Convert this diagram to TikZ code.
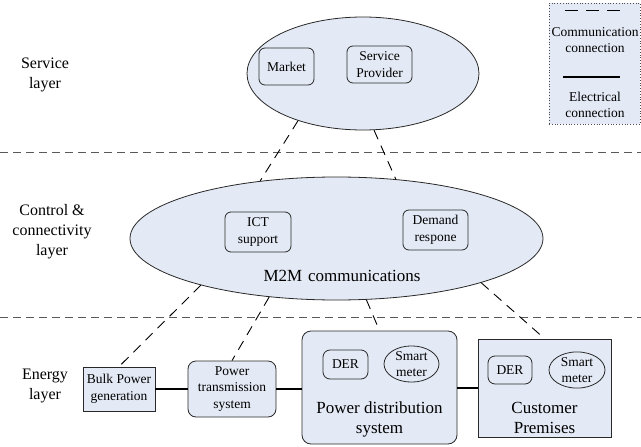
\documentclass[tikz,border=0pt]{standalone}
\usepackage{fontspec}
\setmainfont{LiberationSerif}[Extension=.ttf,UprightFont=*-Regular,BoldFont=*-Bold,ItalicFont=*-Italic]
\usetikzlibrary{shapes.geometric}
\definecolor{fillc}{RGB}{228,234,245}
\definecolor{linec}{RGB}{40,40,40}
\tikzset{
  lbl/.style={align=center,font=\fontsize{16}{20}\selectfont},
  small/.style={font=\fontsize{13.5}{16.5}\selectfont},
  big/.style={font=\fontsize{17}{20}\selectfont},
  rbox/.style={draw=linec,line width=0.8pt,fill=fillc,rounded corners=6pt,align=center,inner sep=0pt,small},
  sbox/.style={draw=linec,line width=0.8pt,fill=fillc,align=center,inner sep=0pt,small},
  ell/.style={ellipse,draw=linec,line width=0.8pt,fill=fillc,inner sep=0pt},
  comm/.style={draw=black,line width=0.9pt,dash pattern=on 10pt off 7pt},
  elec/.style={draw=black,line width=1.8pt},
  sep/.style={draw=black!65,line width=1pt,dash pattern=on 8pt off 5pt}
}
\begin{document}
\begin{tikzpicture}[x=1pt,y=-1pt]
\useasboundingbox (0,0) rectangle (641,447);
% separators
\draw[sep] (0,152) -- (641,152);
\draw[sep] (0,317) -- (641,317);
% legend
\node[draw=black!70,dotted,line width=0.8pt,fill=fillc,minimum width=91pt,minimum height=121pt,inner sep=0pt] (leg) at (594.5,63.5) {};
\coordinate (la) at (565,10);
\coordinate (lb) at (620,10);
\draw[draw=black,line width=1pt,dash pattern=on 13pt off 8pt] (la) -- (lb);
\coordinate (lc) at (563,77);
\coordinate (ld) at (620,77);
\draw[elec] (lc) -- (ld);
\node[small,align=center] (lt1) at (595,40) {Communication\\connection};
\node[small,align=center] (lt2) at (595,105) {Electrical\\connection};
% layer labels
\node[lbl] (l1) at (45,75) {Service\\layer};
\node[lbl] (l2) at (52,232) {Control \&\\connectivity\\layer};
\node[lbl] (l3) at (45,386) {Energy\\layer};
% service layer
\node[ell,minimum width=232pt,minimum height=113pt] (svc) at (363,73.5) {};
\node[rbox,minimum width=55pt,minimum height=37pt] (market) at (286.5,66.5) {Market};
\node[rbox,minimum width=65pt,minimum height=37pt] (prov) at (379.5,64.5) {Service\\Provider};
% control layer
\node[ell,minimum width=413pt,minimum height=123pt] (ctl) at (336.5,238.5) {};
\node[rbox,minimum width=66pt,minimum height=40pt] (ict) at (258,232) {ICT\\support};
\node[rbox,minimum width=65pt,minimum height=40pt] (dem) at (435.5,230) {Demand\\respone};
\node[big] (m2m) at (342,276) {M2M\,\,communications};
% energy layer
\node[sbox,minimum width=72pt,minimum height=44pt] (bulk) at (119,389) {Bulk Power\\generation};
\node[rbox,minimum width=88pt,minimum height=56pt,rounded corners=8pt] (pts) at (232,389) {Power\\transmission\\system};
\node[rbox,minimum width=155pt,minimum height=113pt,rounded corners=9pt] (pds) at (379.5,387.5) {};
\node[rbox,minimum width=45pt,minimum height=29pt,rounded corners=7pt] (der1) at (345.5,364.5) {DER};
\node[ell,small,align=center,minimum width=55pt,minimum height=36pt] (sm1) at (411.5,364) {Smart\\meter};
\node[big,align=center] (pdst) at (379.5,419) {Power distribution\\system};
\node[sbox,minimum width=133pt,minimum height=98pt] (cp) at (544.5,388) {};
\node[rbox,minimum width=44pt,minimum height=28pt,rounded corners=7pt] (der2) at (510,370) {DER};
\node[ell,small,align=center,minimum width=56pt,minimum height=34pt] (sm2) at (577,370) {Smart\\meter};
\node[big,align=center] (cpt) at (544.5,417.5) {Customer\\Premises};
% electrical connections
\draw[elec] (bulk.east) -- (pts.west);
\draw[elec] (pts.east) -- (pds.west |- pts.east);
\draw[elec] (pds.east |- cp.west) -- (cp.west);
% communication connections
\draw[comm] (svc.216) -- (ctl.143.6);
\draw[comm] (svc.281.4) -- (ctl.45.5);
\draw[comm] (ctl.199.2) -- (bulk.north);
\draw[comm] (ctl.221.5) -- (pts.north);
\draw[comm] (ctl.296) -- (pds.north);
\draw[comm] (ctl.343.4) -- (cp.north);
\end{tikzpicture}
\end{document}
